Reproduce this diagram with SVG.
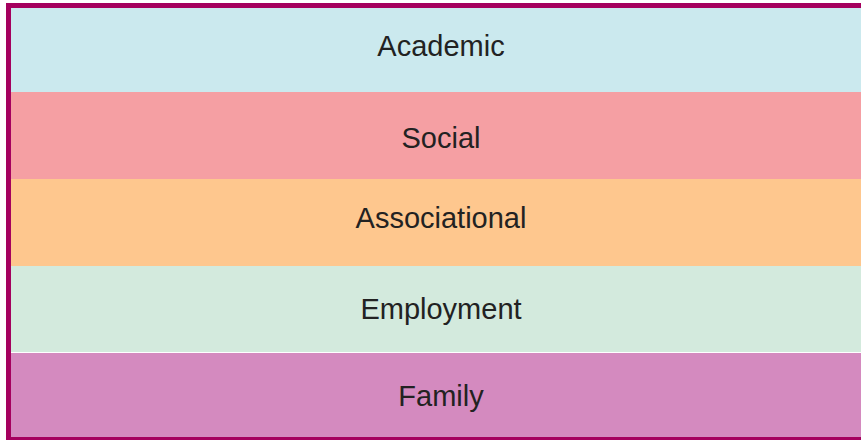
<svg xmlns="http://www.w3.org/2000/svg" width="861" height="440" viewBox="0 0 861 440">
<style>
.lbl{font-family:"Liberation Sans",Arial,Helvetica,sans-serif;font-size:29px;fill:#222;text-anchor:middle}
</style>
<rect width="861" height="440" fill="#fff"/>
<g id="academic"><rect x="11" y="8" width="850" height="84" fill="#cbe9ee"/><text class="lbl" x="441" y="56">Academic</text></g>
<g id="social"><rect x="11" y="92" width="850" height="87" fill="#f59fa3"/><text class="lbl" x="441" y="148">Social</text></g>
<g id="associational"><rect x="11" y="179" width="850" height="87" fill="#fec78e"/><text class="lbl" x="441" y="228">Associational</text></g>
<g id="employment"><rect x="11" y="266" width="850" height="86" fill="#d3eadd"/><text class="lbl" x="441" y="319">Employment</text></g>
<g id="family"><rect x="11" y="353" width="850" height="85" fill="#d48abf"/><text class="lbl" x="441" y="406">Family</text></g>
<g id="connectors"></g>
<rect id="frame" x="8.5" y="5.5" width="860" height="434" fill="none" stroke="#a5005e" stroke-width="5"/>
</svg>
